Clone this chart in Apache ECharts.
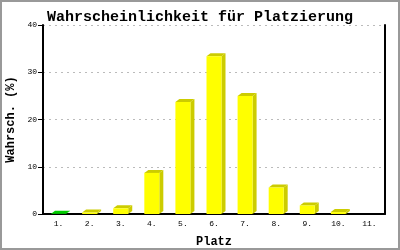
<!DOCTYPE html>
<html><head><meta charset="utf-8">
<script src="https://cdn.jsdelivr.net/npm/echarts@6/dist/echarts.min.js"></script>
<style>html,body{margin:0;padding:0;background:#fff}#c{width:400px;height:250px;box-sizing:border-box;border:2px solid #999}</style>
</head><body><div id="c"></div>
<script>
const categories = ['1.','2.','3.','4.','5.','6.','7.','8.','9.','10.','11.'];
const values = [0.05, 0.3, 1.2, 8.7, 23.7, 33.4, 25.0, 5.6, 1.8, 0.4, 0];
const highlightIndex = [0];
const yTicks = [0, 10, 20, 30, 40];

const chart = echarts.init(document.getElementById('c'));
const mono = "'Liberation Mono','DejaVu Sans Mono',monospace";
const W = 15, DX = 4, DY = 3;
function renderItem(params, api) {
  const idx = api.value(0), v = api.value(1);
  if (!v) return null;
  const p = api.coord([idx, v]);
  const b = api.coord([idx, 0]);
  const hl = highlightIndex.indexOf(idx) >= 0;
  const front = hl ? '#00ee00' : '#ffff00';
  const dark = hl ? '#00cc00' : '#cccc00';
  const l = p[0] - W/2, r = p[0] + W/2;
  return { type: 'group', children: [
    { type: 'polygon', shape: { points: [[r, p[1]], [r+DX, p[1]-DY], [r+DX, b[1]-DY], [r, b[1]]] }, style: { fill: dark } },
    { type: 'polygon', shape: { points: [[l, p[1]], [r, p[1]], [r+DX, p[1]-DY], [l+DX, p[1]-DY]] }, style: { fill: dark } },
    { type: 'rect', shape: { x: l, y: p[1], width: W, height: b[1]-p[1] }, style: { fill: front } }
  ]};
}
chart.setOption({
  animation: false,
  backgroundColor: '#fff',
  title: { text: 'Wahrscheinlichkeit für Platzierung', left: 'center', top: 3,
    textStyle: { fontFamily: mono, fontSize: 15, fontWeight: 'bold', color: '#000' } },
  grid: { left: 41, right: 13, top: 23, bottom: 34, containLabel: false, outerBoundsMode: 'none' },
  xAxis: { type: 'category', data: categories,
    name: 'Platz', nameLocation: 'middle', nameGap: 22,
    nameTextStyle: { fontFamily: mono, fontSize: 12, fontWeight: 'bold', color: '#000' },
    axisLine: { lineStyle: { color: '#000', width: 2 } },
    axisTick: { show: false },
    axisLabel: { fontFamily: mono, fontSize: 8, color: '#000', margin: 6 } },
  yAxis: [{ type: 'value', min: 0, max: 40, interval: 10,
    name: 'Wahrsch. (%)', nameLocation: 'middle', nameGap: 26,
    nameTextStyle: { fontFamily: mono, fontSize: 12, fontWeight: 'bold', color: '#000' },
    axisLine: { show: true, lineStyle: { color: '#000', width: 2 } },
    axisTick: { show: true, length: 5, lineStyle: { color: '#000' } },
    axisLabel: { fontFamily: mono, fontSize: 8, color: '#000', margin: 6,
      formatter: v => yTicks.indexOf(v) >= 0 ? String(v) : '' },
    splitLine: { lineStyle: { color: '#bbb', type: [2, 4] } } },
   { type: 'value', min: 0, max: 40, interval: 10, position: 'right',
    axisLine: { show: true, lineStyle: { color: '#000', width: 2 } },
    axisTick: { show: false }, axisLabel: { show: false }, splitLine: { show: false } }],
  series: [{ type: 'custom', renderItem: renderItem,
    data: values.map((v, i) => [i, v]), encode: { x: 0, y: 1 } }]
});
</script></body></html>
